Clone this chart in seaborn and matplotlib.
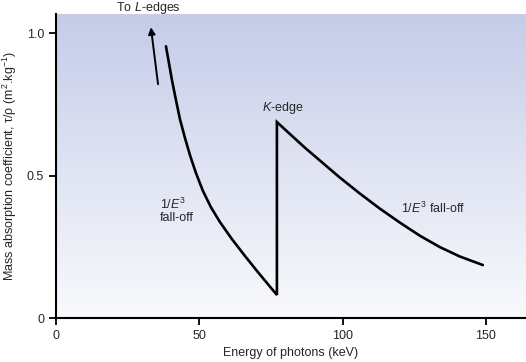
import matplotlib
matplotlib.use("Agg")
import matplotlib.pyplot as plt
import seaborn as sns
import numpy as np
import pandas as pd
from matplotlib.colors import LinearSegmentedColormap

# ---- data ----
# photo-absorption curve: low side of the K-edge, the jump, then the high side
energy_kev = [38.37, 39.41, 40.46, 41.86, 43.25, 45.00, 46.74, 48.83, 51.27, 54.06,
              57.20, 61.39, 65.92, 70.46, 77.08,
              77.08, 81.62, 86.85, 92.08, 99.06, 106.03, 113.01, 119.99, 126.96,
              133.94, 140.91, 148.94]
mass_abs = [0.954, 0.895, 0.835, 0.765, 0.698, 0.632, 0.572, 0.509, 0.446, 0.389,
            0.337, 0.277, 0.218, 0.161, 0.081,
            0.688, 0.646, 0.598, 0.553, 0.493, 0.437, 0.384, 0.335, 0.289,
            0.249, 0.216, 0.186]

x_ticks = [0, 50, 100, 150]
y_ticks = [0, 0.5, 1.0]
y_tick_labels = ["0", "0.5", "1.0"]

# arrow pointing back towards the L-edges
arrow_tail = (35.6, 0.821)
arrow_head = (33.1, 1.021)

sns.set_style("ticks")
plt.rcParams["font.family"] = ["Liberation Sans", "DejaVu Sans"]
plt.rcParams["mathtext.fontset"] = "custom"
plt.rcParams["mathtext.rm"] = "Liberation Sans"
plt.rcParams["mathtext.it"] = "Liberation Sans:italic"

fig = plt.figure(figsize=(5.26, 3.62), dpi=100)
ax = fig.add_axes([0.1065, 0.1215, 0.8935, 0.8395])

# blue-to-white background gradient
cmap = LinearSegmentedColormap.from_list("bg", ["#f9fafd", "#c5cce8"])
grad = np.linspace(0, 1, 256).reshape(-1, 1)
ax.imshow(grad, cmap=cmap, aspect="auto", origin="lower",
          extent=[0, 1, 0, 1], transform=ax.transAxes, zorder=0)

df = pd.DataFrame({"energy": energy_kev, "mu": mass_abs})
sns.lineplot(data=df, x="energy", y="mu", sort=False, estimator=None,
             color="black", linewidth=1.9, ax=ax, zorder=3,
             solid_joinstyle="miter")

ax.annotate("", xy=arrow_head, xytext=arrow_tail,
            arrowprops=dict(arrowstyle="-|>", color="black", lw=1.4,
                            mutation_scale=10, shrinkA=0, shrinkB=0))

ax.text(32.4, 1.087, r"To $\mathit{L}$-edges", ha="center", va="center",
        fontsize=9, clip_on=False)
ax.text(79.2, 0.737, r"$\mathit{K}$-edge", ha="center", va="center", fontsize=9)
ax.text(131.5, 0.386, r"1/$\mathit{E}^3$ fall-off", ha="center", va="center", fontsize=9)
ax.text(36.3, 0.378, "1/$\\mathit{E}^3$\nfall-off", ha="left", va="center",
        fontsize=9, linespacing=1.1)

ax.set_xlim(0, 164)
ax.set_ylim(0, 1.067)
ax.set_xticks(x_ticks)
ax.set_yticks(y_ticks)
ax.set_yticklabels(y_tick_labels)
ax.tick_params(labelsize=9, length=5, width=1.3, color="black")
ax.set_xlabel("Energy of photons (keV)", fontsize=9, labelpad=4)
ax.set_ylabel(r"Mass absorption coefficient, τ/ρ (m$^2$.kg$^{-1}$)", fontsize=9, labelpad=6)

sns.despine(ax=ax)
for side in ["left", "bottom"]:
    ax.spines[side].set_linewidth(1.5)
    ax.spines[side].set_color("black")
    ax.spines[side].set_zorder(4)

fig.savefig("out.png", dpi=100)
